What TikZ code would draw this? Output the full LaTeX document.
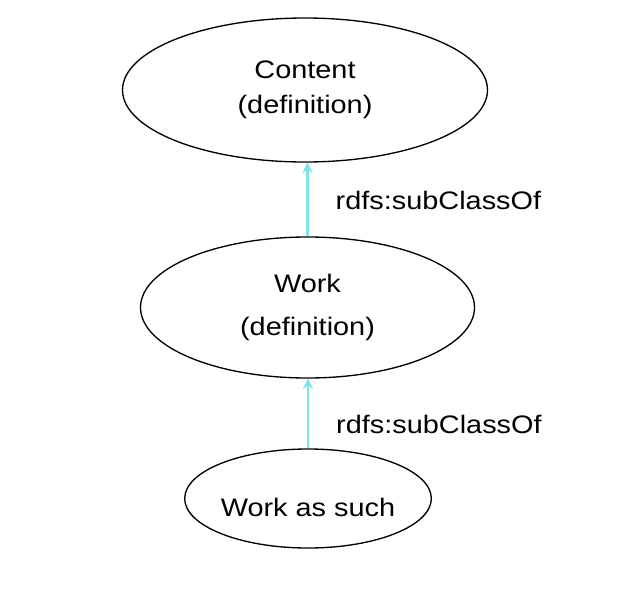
\documentclass[tikz,border=0pt]{standalone}
\usepackage{fontspec}
\setmainfont{Liberation Sans}[FakeStretch=1.14]
\usepackage{tikz}
\usetikzlibrary{shapes.geometric, positioning, arrows.meta}
\definecolor{subcyan}{RGB}{125,228,232}
\tikzset{
x=0.75pt, y=-0.75pt, % pixel grid of the reference
every node/.style={font=\fontsize{19}{22}\selectfont, align=center},
class/.style={ellipse, draw, line width=1pt, inner sep=0pt}, % class ellipses
subclass/.style={-{Stealth[length=8pt, width=8pt, inset=3pt]}, draw=subcyan, line width=1.7pt}, % subClassOf edges
}
\begin{document}
\begin{tikzpicture}
\useasboundingbox[fill=white] (0,0) rectangle (624,596);
\node[class, minimum width=365*0.75pt, minimum height=144*0.75pt] (content) at (305,90) {Content\\[4pt](definition)};
\node[class, minimum width=334*0.75pt, minimum height=141*0.75pt] (work) at (307.5,307.5) {Work\\[10pt](definition)};
\node[class, minimum width=220*0.75pt, minimum height=99*0.75pt, text height=27pt] (assuch) at (308,498.5) {Work as such};
\draw[subclass] (work.north) -- node[right=17pt, pos=.49, text=black] {rdfs:subClassOf} (work.north |- content.south);
\draw[subclass] (assuch.north) -- node[right=17pt, pos=.34, text=black] {rdfs:subClassOf} (assuch.north |- work.south);
\end{tikzpicture}
\end{document}
